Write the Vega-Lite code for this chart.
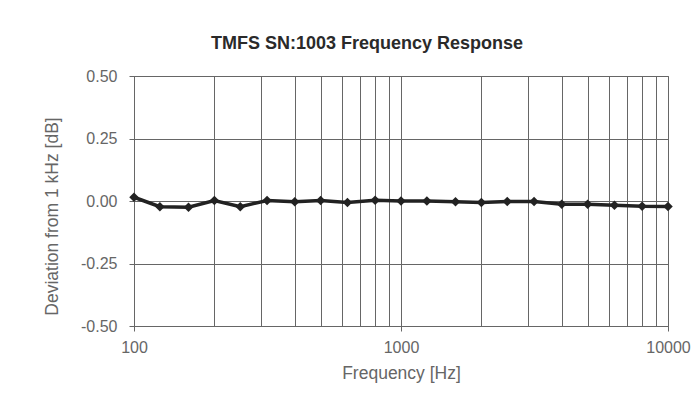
{
  "$schema": "https://vega.github.io/schema/vega-lite/v6.json",
  "width": 534,
  "height": 250,
  "autosize": "none",
  "padding": {"left": 134, "top": 76, "right": 32, "bottom": 82},
  "background": "white",
  "title": {
    "text": "TMFS SN:1003 Frequency Response",
    "font": "Liberation Sans",
    "fontSize": 18,
    "fontWeight": "bold",
    "color": "#2a2a2a",
    "anchor": "middle",
    "dx": -34,
    "offset": 15
  },
  "config": {
    "view": {"stroke": "#777777", "strokeWidth": 1},
    "axis": {
      "labelFont": "Liberation Sans",
      "titleFont": "Liberation Sans",
      "labelFontSize": 16,
      "titleFontSize": 17.5,
      "titleFontWeight": "normal",
      "labelColor": "#666666",
      "titleColor": "#666666",
      "gridColor": "#666666",
      "gridOpacity": 1,
      "gridWidth": 1,
      "domainColor": "#666666",
      "tickColor": "#666666"
    }
  },
  "data": {
    "values": [
      {"freq": 100, "dev": 0.015},
      {"freq": 125, "dev": -0.023},
      {"freq": 160, "dev": -0.025},
      {"freq": 200, "dev": 0.002},
      {"freq": 250, "dev": -0.023},
      {"freq": 315, "dev": 0.002},
      {"freq": 400, "dev": -0.003},
      {"freq": 500, "dev": 0.002},
      {"freq": 630, "dev": -0.006},
      {"freq": 800, "dev": 0.003},
      {"freq": 1000, "dev": 0.0},
      {"freq": 1250, "dev": 0.0},
      {"freq": 1600, "dev": -0.003},
      {"freq": 2000, "dev": -0.006},
      {"freq": 2500, "dev": -0.002},
      {"freq": 3150, "dev": -0.002},
      {"freq": 4000, "dev": -0.013},
      {"freq": 5000, "dev": -0.013},
      {"freq": 6300, "dev": -0.017},
      {"freq": 8000, "dev": -0.021},
      {"freq": 10000, "dev": -0.022}
    ]
  },
  "mark": {
    "type": "line",
    "color": "#222222",
    "strokeWidth": 3.5,
    "point": {"shape": "diamond", "size": 90, "filled": true, "color": "#222222"}
  },
  "encoding": {
    "x": {
      "field": "freq",
      "type": "quantitative",
      "scale": {"type": "log", "domain": [100, 10000], "nice": false},
      "axis": {
        "title": "Frequency [Hz]",
        "titlePadding": 9,
        "values": [100, 200, 300, 400, 500, 600, 700, 800, 900, 1000, 2000, 3000, 4000, 5000, 6000, 7000, 8000, 9000, 10000],
        "format": "d",
        "labelExpr": "datum.value == 100 || datum.value == 1000 || datum.value == 10000 ? datum.label : ''",
        "labelFlush": false,
        "labelPadding": 8,
        "tickSize": {"condition": {"test": "datum.value == 100 || datum.value == 1000 || datum.value == 10000", "value": 5}, "value": 0},
        "grid": true
      }
    },
    "y": {
      "field": "dev",
      "type": "quantitative",
      "scale": {"domain": [-0.5, 0.5], "nice": false},
      "axis": {
        "title": "Deviation from 1 kHz [dB]",
        "titleY": 140,
        "values": [-0.5, -0.25, 0, 0.25, 0.5],
        "format": ".2f",
        "labelExpr": "replace(datum.label, '\u2212', '-')",
        "tickSize": 5,
        "labelPadding": 12,
        "titlePadding": 19,
        "grid": true
      }
    }
  }
}
